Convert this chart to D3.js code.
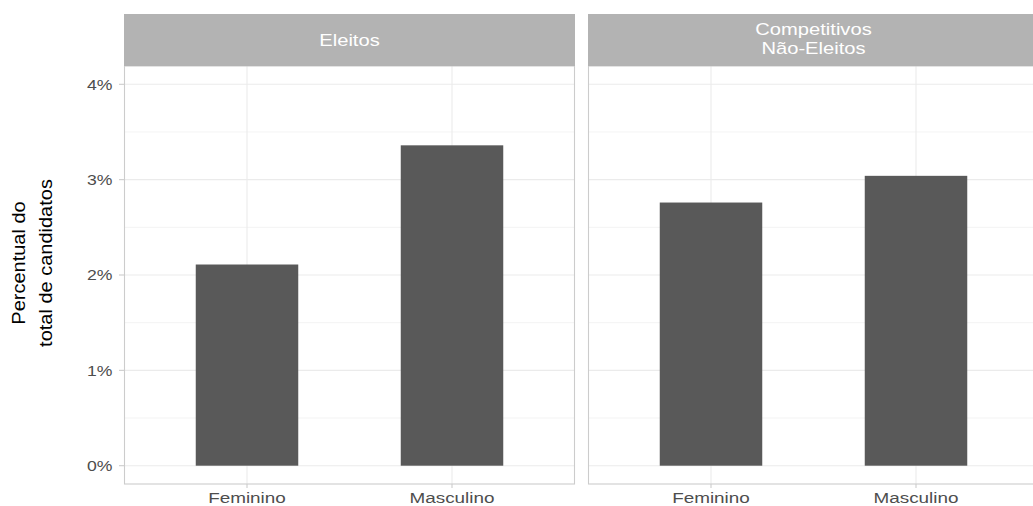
<!DOCTYPE html>
<html><head><meta charset="utf-8">
<script src="https://cdn.jsdelivr.net/npm/d3@7"></script>
<style>body{margin:0;background:#fff}svg{display:block}</style>
</head><body><svg id="c" width="1033" height="506"></svg>
<script>
const panels = ["Eleitos", "Competitivos\nNão-Eleitos"];
const categories = ["Feminino", "Masculino"];
const eleitosValues = [2.11, 3.36];
const competitivosValues = [2.76, 3.04];
const seriesValues = [eleitosValues, competitivosValues];
const yTicks = [0, 1, 2, 3, 4];
const yMinor = [0.5, 1.5, 2.5, 3.5];
const yTitle = ["Percentual do", "total de candidatos"];

const svg = d3.select("#c");
const plotTop = 66, plotBottom = 484, stripTop = 14;
const panelLeft = [124, 588], panelW = 451;
const y = d3.scaleLinear().domain([0, 4]).range([465.7, 84.3]);
const font = "'Liberation Sans', Arial, sans-serif";
const SX = 1.26; // horizontal stretch of text seen in the reference

panels.forEach((p, i) => {
  const x0 = panelLeft[i];
  const u = panelW / 2.2;
  const x = d3.scalePoint().domain(categories).range([x0 + 0.6 * u, x0 + 1.6 * u]);
  const cx = d => x(d);
  const g = svg.append("g");
  g.selectAll(".mn").data(yMinor).join("line")
    .attr("x1", x0).attr("x2", x0 + panelW).attr("y1", d => y(d)).attr("y2", d => y(d))
    .attr("stroke", "#ebebeb").attr("stroke-width", 0.6);
  g.selectAll(".mj").data(yTicks).join("line")
    .attr("x1", x0).attr("x2", x0 + panelW).attr("y1", d => y(d)).attr("y2", d => y(d))
    .attr("stroke", "#ebebeb").attr("stroke-width", 1.1);
  g.selectAll(".vx").data(categories).join("line")
    .attr("x1", cx).attr("x2", cx).attr("y1", plotTop).attr("y2", plotBottom)
    .attr("stroke", "#ebebeb").attr("stroke-width", 1.1);
  g.selectAll(".bar").data(categories.map((c, j) => ({c, v: seriesValues[i][j]}))).join("rect")
    .attr("x", d => cx(d.c) - 0.25 * u).attr("width", 0.5 * u)
    .attr("y", d => y(d.v)).attr("height", d => y(0) - y(d.v))
    .attr("fill", "#595959");
  g.append("rect").attr("x", x0 + 0.5).attr("y", plotTop).attr("width", panelW - 1).attr("height", plotBottom - plotTop)
    .attr("fill", "none").attr("stroke", "#cccccc").attr("stroke-width", 1.1);
  g.append("rect").attr("x", x0).attr("y", stripTop).attr("width", panelW).attr("height", plotTop - stripTop)
    .attr("fill", "#b3b3b3");
  const lines = p.split("\n");
  const baselines = lines.length === 1 ? [46] : [34.5, 53.5];
  lines.forEach((l, k) => {
    g.append("text").attr("transform", `translate(${x0 + panelW / 2},${baselines[k]}) scale(${SX},1)`)
      .attr("fill", "#ffffff").attr("font-family", font).attr("font-size", 16)
      .attr("text-anchor", "middle").text(l);
  });
  g.selectAll(".xt").data(categories).join("line")
    .attr("x1", cx).attr("x2", cx).attr("y1", plotBottom).attr("y2", plotBottom + 4)
    .attr("stroke", "#cccccc").attr("stroke-width", 1.1);
  g.selectAll(".xl").data(categories).join("text")
    .attr("transform", d => `translate(${cx(d)},${plotBottom + 18.5}) scale(${SX},1)`)
    .attr("text-anchor", "middle")
    .attr("font-family", font).attr("font-size", 15).attr("fill", "#4d4d4d").text(d => d);
});

const ya = svg.append("g");
ya.selectAll("line").data(yTicks).join("line")
  .attr("x1", 119).attr("x2", 124).attr("y1", d => y(d)).attr("y2", d => y(d))
  .attr("stroke", "#cccccc").attr("stroke-width", 1.1);
ya.selectAll("text").data(yTicks).join("text")
  .attr("transform", d => `translate(112.5,${y(d) + 5.2}) scale(${SX},1)`)
  .attr("text-anchor", "end")
  .attr("font-family", font).attr("font-size", 14).attr("fill", "#4d4d4d")
  .text(d => d3.format("d")(d) + "%");

const yt = svg.append("text").attr("transform", `translate(25,263) scale(0.93,1) rotate(-90)`)
  .attr("text-anchor", "middle").attr("font-family", font)
  .attr("font-size", 20).attr("fill", "#000");
yTitle.forEach((l, k) => yt.append("tspan").attr("x", 0).attr("y", k * 29).text(l));
</script></body></html>
